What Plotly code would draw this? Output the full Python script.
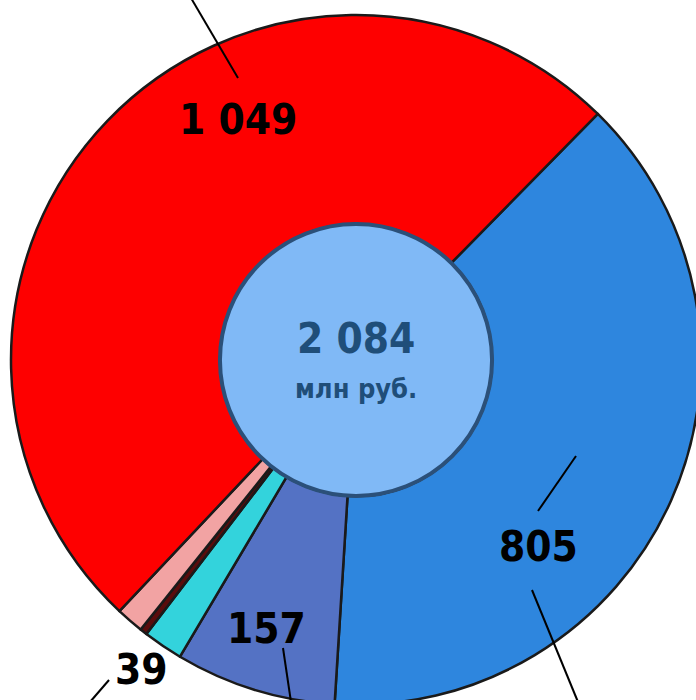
import plotly.graph_objects as go

# slices, clockwise from the red/blue boundary
labels = ['Синий', 'Серо-синий', 'Бирюзовый', 'Бордовый', 'Розовый', 'Красный']
values = [805, 157, 39, 7, 27, 1049]
colors = ['#2e86de', '#5472c4', '#33d3dc', '#5a0c0c', '#f2a3a3', '#fe0000']
total = sum(values)

# the figure is a bit larger than the window, like the cropped original
W, H = 720, 720
CX, CY, R, R_IN = 356, 360, 345, 136
FONT = 'DejaVu Sans Condensed, Liberation Sans Narrow, Roboto, sans-serif'


def px(x):
    return x / W


def py(y):
    return 1 - y / H


def fmt(v):
    return f'{v:,}'.replace(',', ' ')


fig = go.Figure()

fig.add_trace(go.Pie(
    labels=labels,
    values=values,
    sort=False,
    direction='clockwise',
    rotation=44.5,
    hole=R_IN / R,
    textinfo='none',
    hoverinfo='label+value',
    marker=dict(colors=colors, line=dict(color='#1a1a1a', width=2.5)),
    domain=dict(x=[px(CX - R), px(CX + R)], y=[py(CY + R), py(CY - R)]),
    showlegend=False
))

# central disk with the total
fig.add_trace(go.Pie(
    labels=['Итого'],
    values=[total],
    textinfo='none',
    hoverinfo='label+value',
    marker=dict(colors=['#80b9f6'], line=dict(color='#2b5079', width=4)),
    domain=dict(x=[px(CX - R_IN), px(CX + R_IN)], y=[py(CY + R_IN), py(CY - R_IN)]),
    showlegend=False
))

label_font = dict(family=FONT, size=42, color='#000000')
# label positions (pixels) for the slices that carry a label
label_pos = {'Красный': (238, 120), 'Синий': (538, 546), 'Серо-синий': (266, 628), 'Бирюзовый': (141, 669)}
annotations = []
for name, (x, y) in label_pos.items():
    v = values[labels.index(name)]
    annotations.append(dict(x=px(x), y=py(y), xref='paper', yref='paper', text=f'<b>{fmt(v)}</b>',
                            showarrow=False, font=label_font, xanchor='center', yanchor='middle'))

annotations.append(dict(x=px(CX), y=py(338), xref='paper', yref='paper', text=f'<b>{fmt(total)}</b>',
                        showarrow=False, xanchor='center', yanchor='middle',
                        font=dict(family=FONT, size=42, color='#1f4e79')))
annotations.append(dict(x=px(CX), y=py(388), xref='paper', yref='paper', text='<b>млн руб.</b>',
                        showarrow=False, xanchor='center', yanchor='middle',
                        font=dict(family=FONT, size=27, color='#1f4e79')))

# leader lines
leaders = [((238, 78), (191, -2)), ((576, 456), (538, 511)), ((532, 590), (578, 702)),
           ((283, 648), (291, 702)), ((109, 680), (90, 702))]
shapes = [dict(type='line', xref='paper', yref='paper', x0=px(a[0]), y0=py(a[1]), x1=px(b[0]), y1=py(b[1]),
               line=dict(color='#000000', width=2)) for a, b in leaders]

fig.update_layout(
    width=W,
    height=H,
    margin=dict(l=0, r=0, t=0, b=0),
    paper_bgcolor='white',
    plot_bgcolor='white',
    annotations=annotations,
    shapes=shapes
)

fig.write_html('out.html', config={'displayModeBar': False},
               post_script="document.body.style.margin='0';document.body.style.overflow='hidden';"
                           "document.documentElement.style.overflow='hidden';")
